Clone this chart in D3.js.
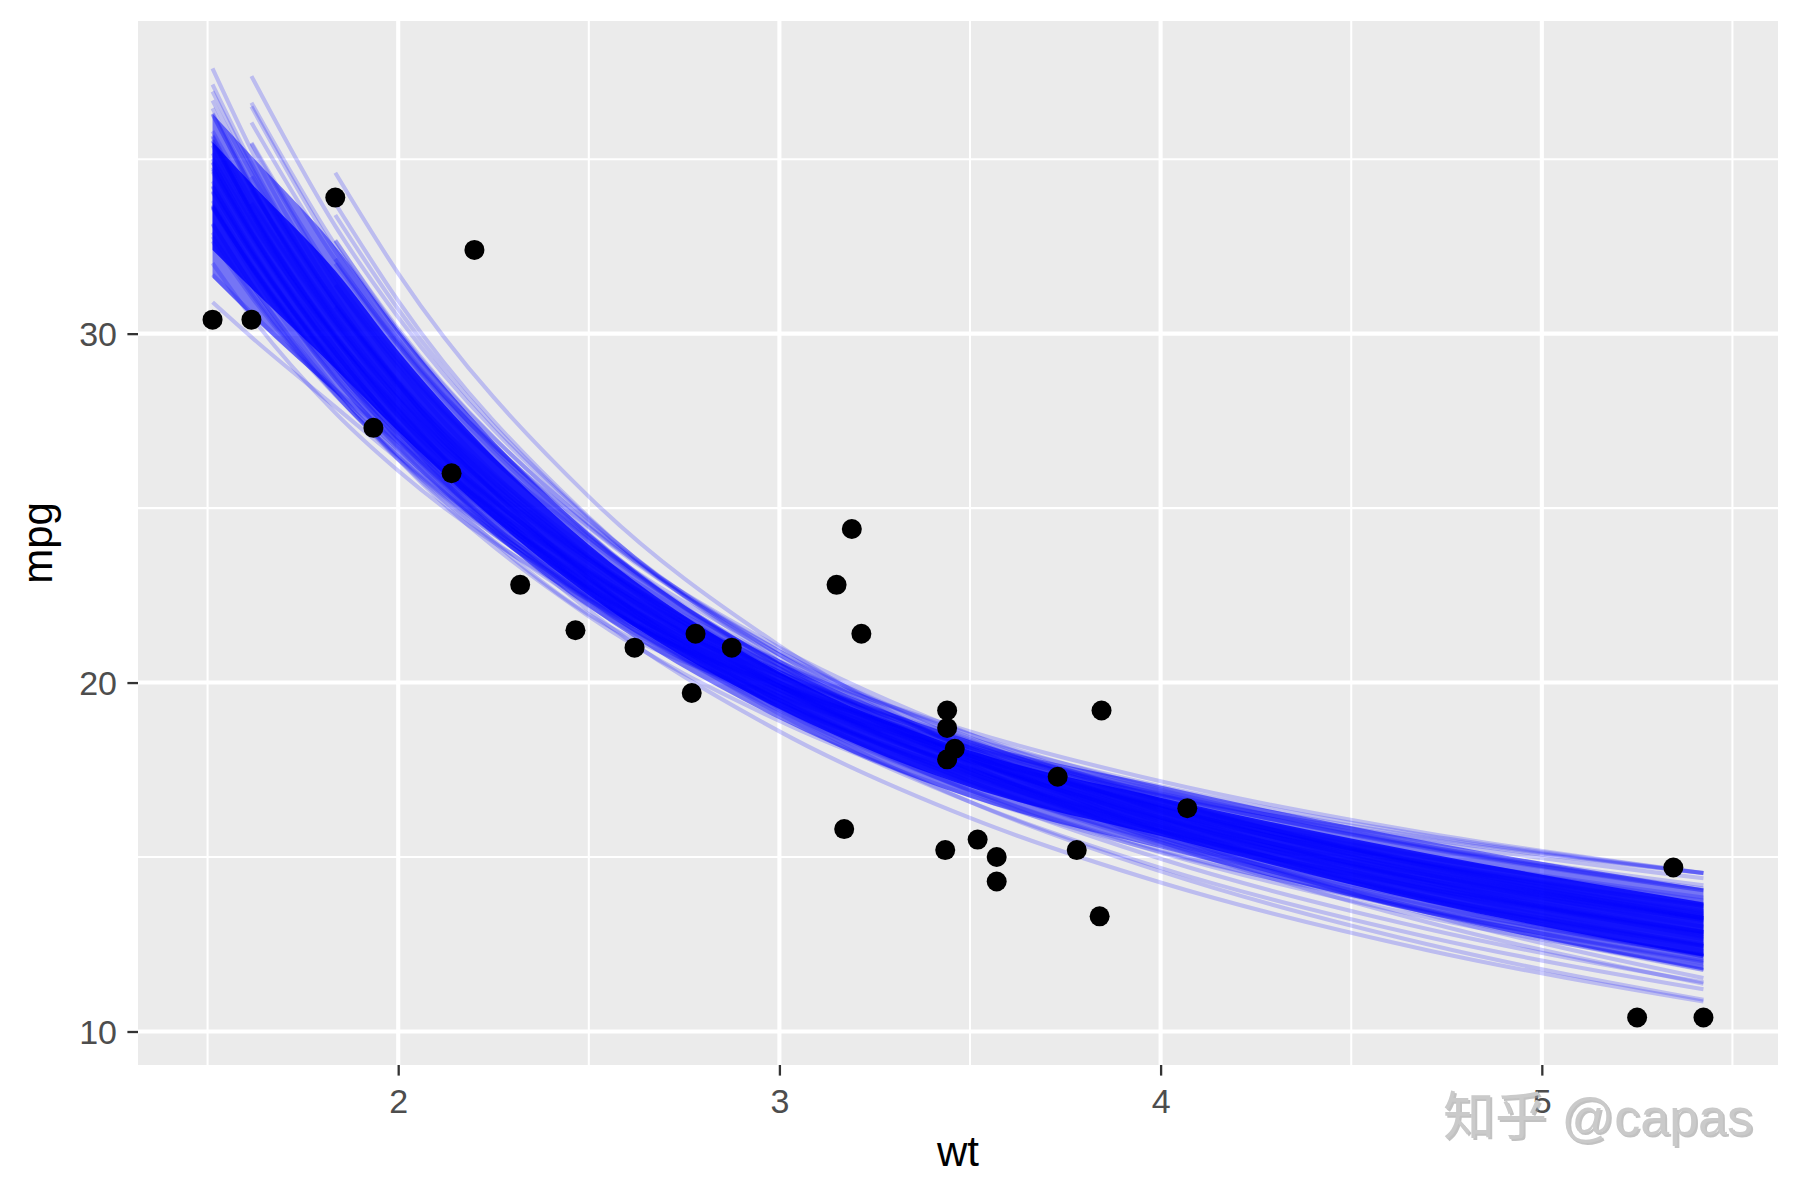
<!DOCTYPE html>
<html>
<head>
<meta charset="utf-8">
<script src="https://cdn.jsdelivr.net/npm/d3@7"></script>
<style>
  body { margin: 0; background: #ffffff; }
  svg { display: block; }
</style>
</head>
<body>
<svg id="chart" width="1800" height="1200"></svg>
<script>
// ---- observed cars (mtcars) ----
const carWt  = [2.620, 2.875, 2.320, 3.215, 3.440, 3.460, 3.570, 3.190, 3.150, 3.440, 3.440, 4.070, 3.730, 3.780, 5.250, 5.424,
                5.345, 2.200, 1.615, 1.835, 2.465, 3.520, 3.435, 3.840, 3.845, 1.935, 2.140, 1.513, 3.170, 2.770, 3.570, 2.780];
const carMpg = [21.0, 21.0, 22.8, 21.4, 18.7, 18.1, 14.3, 24.4, 22.8, 19.2, 17.8, 16.4, 17.3, 15.2, 10.4, 10.4,
                14.7, 32.4, 30.4, 33.9, 21.5, 15.5, 15.2, 13.3, 19.2, 27.3, 26.0, 30.4, 15.8, 19.7, 15.0, 21.4];

// ---- fitted bootstrap curves: mpg read at these wt values (null = curve not present there) ----
const knotWt = [1.513, 1.615, 1.835, 2.0, 2.5, 3.0, 3.5, 4.0, 4.7, 5.424];
const bootFits = [
  [37.60, 35.26, 31.11, 28.59, 22.99, 19.25, 16.58, 14.59, 12.50, 10.91],
  [37.14, 34.89, 30.88, 28.45, 23.05, 19.45, 16.88, 14.95, 12.94, 11.41],
  [36.46, 34.25, 30.32, 27.94, 22.64, 19.10, 16.58, 14.69, 12.71, 11.21],
  [35.64, 33.47, 29.61, 27.27, 22.07, 18.60, 16.12, 14.27, 12.33, 10.86],
  [36.31, 34.18, 30.40, 28.10, 23.00, 19.60, 17.17, 15.35, 13.45, 12.01],
  [35.68, 33.60, 29.89, 27.64, 22.64, 19.30, 16.92, 15.13, 13.27, 11.85],
  [36.28, 34.20, 30.49, 28.24, 23.24, 19.90, 17.52, 15.73, 13.87, 12.45],
  [35.55, 33.51, 29.87, 27.67, 22.77, 19.50, 17.17, 15.42, 13.60, 12.20],
  [34.92, 32.92, 29.36, 27.20, 22.40, 19.20, 16.92, 15.20, 13.42, 12.05],
  [35.52, 33.52, 29.96, 27.80, 23.00, 19.80, 17.52, 15.80, 14.02, 12.65],
  [34.90, 32.94, 29.45, 27.33, 22.63, 19.50, 17.26, 15.58, 13.84, 12.50],
  [35.40, 33.44, 29.95, 27.83, 23.13, 20.00, 17.76, 16.08, 14.34, 13.00],
  [34.37, 32.45, 29.04, 26.97, 22.37, 19.30, 17.11, 15.47, 13.76, 12.45],
  [34.77, 32.85, 29.44, 27.37, 22.77, 19.70, 17.51, 15.87, 14.16, 12.85],
  [35.17, 33.25, 29.84, 27.77, 23.17, 20.10, 17.91, 16.27, 14.56, 13.25],
  [34.24, 32.37, 29.03, 27.00, 22.50, 19.50, 17.36, 15.75, 14.08, 12.80],
  [34.64, 32.77, 29.43, 27.40, 22.90, 19.90, 17.76, 16.15, 14.48, 13.20],
  [33.81, 31.98, 28.71, 26.73, 22.33, 19.40, 17.31, 15.73, 14.10, 12.85],
  [34.21, 32.38, 29.11, 27.13, 22.73, 19.80, 17.71, 16.13, 14.50, 13.25],
  [34.71, 32.88, 29.61, 27.63, 23.23, 20.30, 18.21, 16.63, 15.00, 13.75],
  [33.69, 31.89, 28.70, 26.77, 22.47, 19.60, 17.55, 16.02, 14.42, 13.20],
  [34.09, 32.29, 29.10, 27.17, 22.87, 20.00, 17.95, 16.42, 14.82, 13.60],
  [33.16, 31.41, 28.29, 26.40, 22.20, 19.40, 17.40, 15.90, 14.34, 13.15],
  [33.66, 31.91, 28.79, 26.90, 22.70, 19.90, 17.90, 16.40, 14.84, 13.65],
  [33.13, 31.42, 28.38, 26.53, 22.43, 19.70, 17.75, 16.28, 14.76, 13.60],
  [33.63, 31.92, 28.88, 27.03, 22.93, 20.20, 18.25, 16.78, 15.26, 14.10],
  [32.90, 31.24, 28.27, 26.47, 22.47, 19.80, 17.90, 16.47, 14.98, 13.84],
  [33.60, 31.94, 28.97, 27.17, 23.17, 20.50, 18.60, 17.17, 15.68, 14.54],
  [32.78, 31.15, 28.26, 26.50, 22.60, 20.00, 18.14, 16.75, 15.30, 14.19],
  [32.65, 31.06, 28.24, 26.53, 22.73, 20.20, 18.39, 17.03, 15.62, 14.54],
  [32.02, 30.48, 27.73, 26.07, 22.37, 19.90, 18.14, 16.82, 15.44, 14.39],
  [31.69, 30.60, 28.40, 26.90, 22.35, 19.90, 18.19, 16.90, 15.56, 14.54],
  [30.90, 29.90, 27.90, 26.40, 21.95, 19.60, 17.98, 16.77, 15.50, 14.54],
  [33.64, 31.77, 28.43, 26.40, 21.90, 18.90, 16.76, 15.15, 13.48, 12.20],
  [36.68, 34.60, 30.89, 28.64, 23.64, 20.30, 17.92, 16.13, 14.27, 12.85],
  [35.80, 33.84, 30.35, 28.23, 23.53, 20.40, 18.16, 16.48, 14.74, 13.40],
  [35.01, 33.18, 29.91, 27.93, 23.53, 20.60, 18.51, 16.93, 15.30, 14.05],
  [36.94, 34.77, 30.91, 28.57, 23.37, 19.90, 17.42, 15.57, 13.63, 12.16],
  [34.06, 32.31, 29.19, 27.30, 23.10, 20.30, 18.30, 16.80, 15.24, 14.05],
  [null,  37.38, 33.08, 30.47, 24.67, 20.80, 18.04, 15.97, 13.81, 12.16],
  [null,  36.62, 32.54, 30.07, 24.57, 20.90, 18.28, 16.32, 14.27, 12.71],
  [null,  36.05, 32.12, 29.74, 24.44, 20.90, 18.38, 16.49, 14.51, 13.01],
  [null,  34.12, 30.56, 28.40, 23.60, 20.40, 18.12, 16.40, 14.62, 13.25],
  [null,  36.51, 32.36, 29.84, 24.24, 20.50, 17.83, 15.84, 13.75, 12.16],
  [null,  35.47, 31.61, 29.27, 24.07, 20.60, 18.12, 16.27, 14.33, 12.86],
  [null,  34.50, 30.79, 28.54, 23.54, 20.20, 17.82, 16.03, 14.17, 12.75],
  [null,  35.44, 31.43, 29.00, 23.60, 20.00, 17.43, 15.50, 13.49, 11.96],
  [null,  33.74, 30.25, 28.13, 23.43, 20.30, 18.06, 16.38, 14.64, 13.30],
  [null,  null,  34.61, 31.73, 25.33, 21.06, 18.01, 15.73, 13.35, 11.53],
  [null,  null,  33.40, 30.70, 24.70, 20.70, 17.84, 15.70, 13.47, 11.77],
  [null,  null,  32.66, 30.14, 24.54, 20.80, 18.13, 16.14, 14.05, 12.46],
  [null,  null,  32.01, 29.67, 24.47, 21.00, 18.52, 16.67, 14.73, 13.26],
  [null,  null,  30.76, 28.60, 23.80, 20.60, 18.32, 16.60, 14.82, 13.45],
  [null,  null,  32.68, 30.07, 24.27, 20.40, 17.64, 15.57, 13.41, 11.76],
  [null,  null,  32.14, 29.67, 24.17, 20.50, 17.88, 15.92, 13.87, 12.31],
  [null,  null,  31.39, 29.14, 24.14, 20.80, 18.42, 16.63, 14.77, 13.35],
  [null,  null,  33.73, 30.94, 24.74, 20.60, 17.65, 15.44, 13.13, 11.37]
];

// ---- where the overlapping curves merge into solid blue (read at knotWt) ----
const denseOuterUpper = [36.3, 35.1, 32.5, 30.1, 24.3, 20.6, 18.35, 17.05, 15.45, 14.1];
const denseOuterLower = [31.6, 30.5, 28.3, 26.6, 22.15, 18.95, 16.7, 15.25, 13.35, 11.75];
const denseInnerUpper = [35.5, 34.3, 31.8, 29.5, 23.95, 20.3, 18.05, 16.7, 15.1, 13.7];
const denseInnerLower = [32.4, 31.3, 29.0, 27.2, 22.5, 19.25, 17.0, 15.6, 13.7, 12.15];

// ---- axes ----
const xTicks = [2, 3, 4, 5];
const xMinorTicks = [1.5, 2.5, 3.5, 4.5, 5.5];
const yTicks = [10, 20, 30];
const yMinorTicks = [15, 25, 35];
const xTitle = "wt";
const yTitle = "mpg";
const watermarkCJK = "知乎";
const watermarkLatin = " @capas";

// ---------------------------------------------------------------
const svg = d3.select("#chart");
const panel = { left: 138, right: 1778, top: 21, bottom: 1065 };

// ggplot-style 5% expansion of the data range
const allWt = carWt.concat(knotWt);
const allMpg = carMpg.concat(bootFits.flat().filter(v => v != null));
const wtExt = d3.extent(allWt), mpgExt = d3.extent(allMpg);
const wtPad = (wtExt[1] - wtExt[0]) * 0.05, mpgPad = (mpgExt[1] - mpgExt[0]) * 0.05;

const x = d3.scaleLinear().domain([wtExt[0] - wtPad, wtExt[1] + wtPad]).range([panel.left, panel.right]);
const y = d3.scaleLinear().domain([mpgExt[0] - mpgPad, mpgExt[1] + mpgPad]).range([panel.bottom, panel.top]);

// panel background
svg.append("rect")
  .attr("x", panel.left).attr("y", panel.top)
  .attr("width", panel.right - panel.left).attr("height", panel.bottom - panel.top)
  .attr("fill", "#EBEBEB");

const grid = svg.append("g");
grid.selectAll(".xminor").data(xMinorTicks).join("line")
  .attr("x1", d => x(d)).attr("x2", d => x(d)).attr("y1", panel.top).attr("y2", panel.bottom)
  .attr("stroke", "#fff").attr("stroke-width", 2.05);
grid.selectAll(".yminor").data(yMinorTicks).join("line")
  .attr("y1", d => y(d)).attr("y2", d => y(d)).attr("x1", panel.left).attr("x2", panel.right)
  .attr("stroke", "#fff").attr("stroke-width", 2.05);
grid.selectAll(".xmajor").data(xTicks).join("line")
  .attr("x1", d => x(d)).attr("x2", d => x(d)).attr("y1", panel.top).attr("y2", panel.bottom)
  .attr("stroke", "#fff").attr("stroke-width", 4.1);
grid.selectAll(".ymajor").data(yTicks).join("line")
  .attr("y1", d => y(d)).attr("y2", d => y(d)).attr("x1", panel.left).attr("x2", panel.right)
  .attr("stroke", "#fff").attr("stroke-width", 4.1);

// clip
svg.append("clipPath").attr("id", "panelClip").append("rect")
  .attr("x", panel.left).attr("y", panel.top)
  .attr("width", panel.right - panel.left).attr("height", panel.bottom - panel.top);
const plot = svg.append("g").attr("clip-path", "url(#panelClip)");

// dense cores of the overlapping curves
const area = d3.area()
  .curve(d3.curveMonotoneX)
  .x(d => x(d.wt)).y0(d => y(d.lo)).y1(d => y(d.hi));
const outerBand = knotWt.map((w, i) => ({ wt: w, lo: denseOuterLower[i], hi: denseOuterUpper[i] }));
const innerBand = knotWt.map((w, i) => ({ wt: w, lo: denseInnerLower[i], hi: denseInnerUpper[i] }));
plot.append("path").datum(outerBand).attr("d", area).attr("fill", "#0000FF").attr("fill-opacity", 0.5);
plot.append("path").datum(innerBand).attr("d", area).attr("fill", "#0000FF").attr("fill-opacity", 0.8);

// individual bootstrap curves
const line = d3.line()
  .defined(d => d.mpg != null)
  .curve(d3.curveMonotoneX)
  .x(d => x(d.wt)).y(d => y(d.mpg));
plot.selectAll(".boot").data(bootFits).join("path")
  .attr("d", row => line(knotWt.map((w, i) => ({ wt: w, mpg: row[i] }))))
  .attr("fill", "none")
  .attr("stroke", "#0000FF")
  .attr("stroke-opacity", 0.2)
  .attr("stroke-width", 4.1)
  .attr("stroke-linejoin", "round");

// points
plot.selectAll(".pt").data(carWt).join("circle")
  .attr("cx", d => x(d)).attr("cy", (d, i) => y(carMpg[i]))
  .attr("r", 10).attr("fill", "#000");

// axes
const font = "'Liberation Sans', Arial, Helvetica, sans-serif";
const xAxis = d3.axisBottom(x).tickValues(xTicks).tickSize(10.6).tickPadding(6).tickFormat(d3.format("d"));
const gx = svg.append("g").attr("transform", `translate(0,${panel.bottom})`).call(xAxis);
gx.select(".domain").remove();
gx.selectAll(".tick line").attr("stroke", "#333333").attr("stroke-width", 2.3);
gx.selectAll(".tick text").attr("fill", "#4D4D4D").attr("font-size", 34).attr("font-family", font)
  .attr("dy", null).attr("y", 48);

const yAxis = d3.axisLeft(y).tickValues(yTicks).tickSize(10.6).tickPadding(9).tickFormat(d3.format("d"));
const gy = svg.append("g").attr("transform", `translate(${panel.left},0)`).call(yAxis);
gy.select(".domain").remove();
gy.selectAll(".tick line").attr("stroke", "#333333").attr("stroke-width", 2.3);
gy.selectAll(".tick text").attr("fill", "#4D4D4D").attr("font-size", 34).attr("font-family", font)
  .attr("dy", "0.36em").attr("x", -21);

// titles
svg.append("text").attr("x", (panel.left + panel.right) / 2).attr("y", 1166)
  .attr("text-anchor", "middle").attr("font-family", font).attr("font-size", 42).attr("fill", "#000")
  .text(xTitle);
svg.append("text").attr("transform", `translate(52,${(panel.top + panel.bottom) / 2}) rotate(-90)`)
  .attr("text-anchor", "middle").attr("font-family", font).attr("font-size", 42).attr("fill", "#000")
  .text(yTitle);

// watermark (embossed light grey)
function addWatermark(dx, dy, fill, opacity) {
  const t = svg.append("text").attr("x", 1753 + dx).attr("y", 1135 + dy).attr("text-anchor", "end")
    .attr("font-size", 52).attr("fill", fill).attr("fill-opacity", opacity);
  t.append("tspan").attr("font-family", "'Noto Sans CJK SC', sans-serif").text(watermarkCJK);
  t.append("tspan").attr("font-family", font).text(watermarkLatin);
}
addWatermark(2, 2, "#9a9a9a", 0.6);
addWatermark(0, 0, "#cacaca", 1);
</script>
</body>
</html>
